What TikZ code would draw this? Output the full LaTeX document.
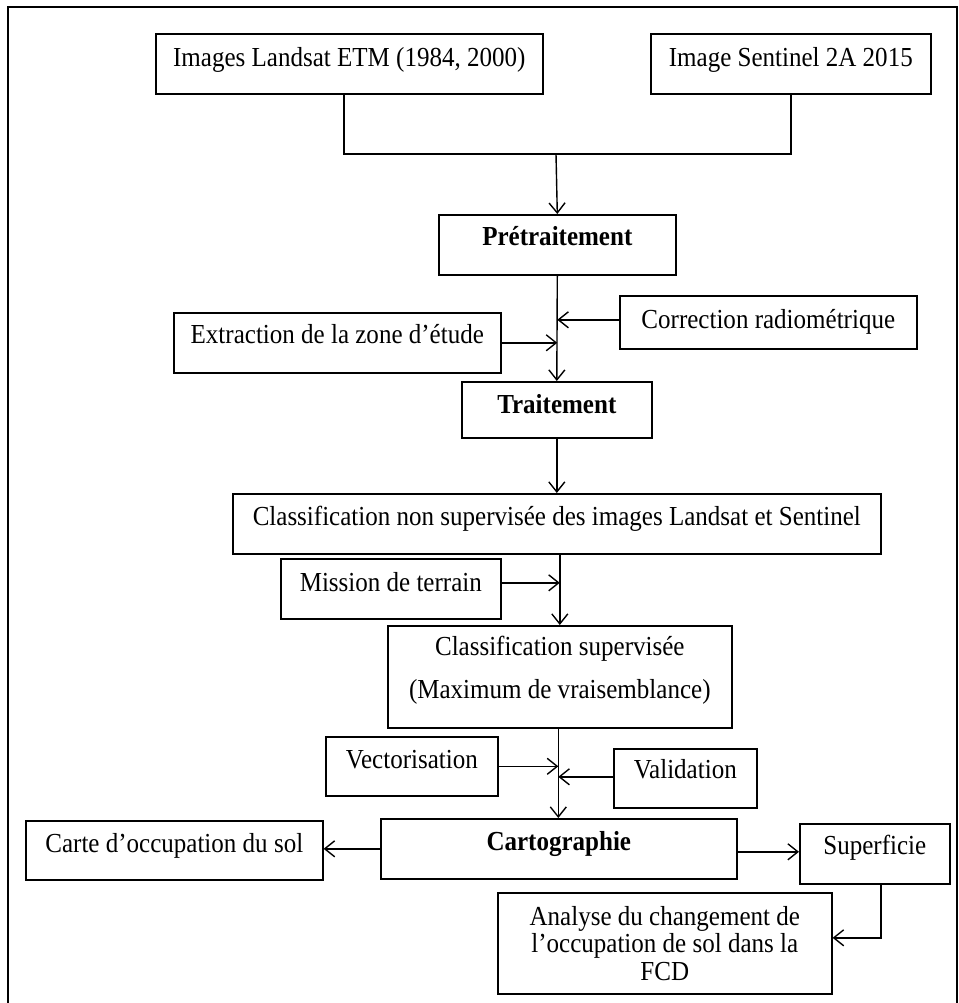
\documentclass[tikz,border=0pt]{standalone}
\usepackage{fontspec}
\setmainfont{Liberation Serif}[FakeStretch=0.91]
\usetikzlibrary{arrows.meta}
\tikzset{
  box/.style={draw, line width=1.6pt, rectangle, inner sep=0pt, anchor=north west,
    font=\fontsize{27.5}{30}\selectfont},
  one/.style={text height=18.7pt},
  arr/.style={line width=1.4pt, -{Straight Barb[length=10pt,width=16pt]}},
  ln/.style={line width=1.4pt},
}
\begin{document}
\begin{tikzpicture}[x=1pt,y=-1pt]
\useasboundingbox (0,0) rectangle (958,1003);
\draw[line width=2pt] (8,7) rectangle (957,1012);

\node[box,one,minimum width=387pt,minimum height=60pt,text depth=14pt] (landsat) at (155,33) {Images Landsat ETM (1984, 2000)};
\node[box,one,minimum width=280pt,minimum height=60pt,text depth=14pt] (sentinel) at (650,33) {Image Sentinel 2A 2015};
\node[box,one,minimum width=237pt,minimum height=60pt,text depth=18pt,font=\fontsize{27.5}{30}\selectfont\bfseries] (pret) at (438,214) {Prétraitement};
\node[box,one,minimum width=297pt,minimum height=53pt,text depth=7pt] (corr) at (619,295) {Correction radiométrique};
\node[box,one,minimum width=327pt,minimum height=60pt,text depth=18pt] (extr) at (173,312) {Extraction de la zone d’étude};
\node[box,one,minimum width=190pt,minimum height=56pt,text depth=12pt,font=\fontsize{27.5}{30}\selectfont\bfseries] (trait) at (461,381) {Traitement};
\node[box,one,minimum width=648pt,minimum height=60pt,text depth=16pt] (cns) at (232,493) {Classification non supervisée des images Landsat et Sentinel};
\node[box,one,minimum width=220pt,minimum height=60pt,text depth=14pt] (mission) at (280,558) {Mission de terrain};
\node[box,minimum width=344pt,minimum height=102pt,text depth=19pt,align=center,font=\fontsize{27.5}{43}\selectfont] (cs) at (387,625) {Classification supervisée\\(Maximum de vraisemblance)};
\node[box,one,minimum width=172pt,minimum height=59pt,text depth=15pt] (vect) at (325,736) {Vectorisation};
\node[box,one,minimum width=143pt,minimum height=59pt,text depth=19pt] (valid) at (613,748) {Validation};
\node[box,one,minimum width=356pt,minimum height=60pt,text depth=16pt,font=\fontsize{27.5}{30}\selectfont\bfseries] (cart) at (380,818) {Cartographie};
\node[box,one,minimum width=297pt,minimum height=59pt,text depth=15pt] (carte) at (25,820) {Carte d’occupation du sol};
\node[box,one,minimum width=150pt,minimum height=60pt,text depth=18pt] (sup) at (799,823) {Superficie};
\node[box,minimum width=334pt,minimum height=101pt,align=center,font=\fontsize{27.5}{27.5}\selectfont] (anal) at (497,892) {Analyse du changement de\\l’occupation de sol dans la\\FCD};

\coordinate (j1) at (556,154);
\coordinate (axis) at ([xshift=-1.5pt]cs.south);
\draw[ln] ([xshift=-5.5pt]landsat.south) |- (j1) -| (sentinel.south);
\draw[arr] (j1) -- (pret.north);
\draw[arr] (pret.south) -- (trait.north);
\draw[arr] ([yshift=2.5pt]corr.west) -- ([yshift=2.5pt]corr.west -| pret.south);
\draw[arr] (extr.east) -- (extr.east -| pret.south);
\draw[arr] (trait.south) -- (cns.north);
\draw[arr] (cs.north |- cns.south) -- (cs.north);
\draw[arr] ([yshift=6pt]mission.east) -- ([yshift=6pt]mission.east -| cs.north);
\draw[arr] (axis) -- (axis |- cart.north);
\draw[arr] (vect.east) -- (vect.east -| axis);
\draw[arr] ([yshift=1.5pt]valid.west) -- ([yshift=1.5pt]valid.west -| axis);
\draw[arr] (cart.west) -- (cart.west -| carte.east);
\draw[arr] ([yshift=-3pt]cart.east) -- ([yshift=-3pt]cart.east -| sup.west);
\draw[arr] ([xshift=6pt]sup.south) |- ([yshift=5.5pt]anal.east);
\end{tikzpicture}
\end{document}
